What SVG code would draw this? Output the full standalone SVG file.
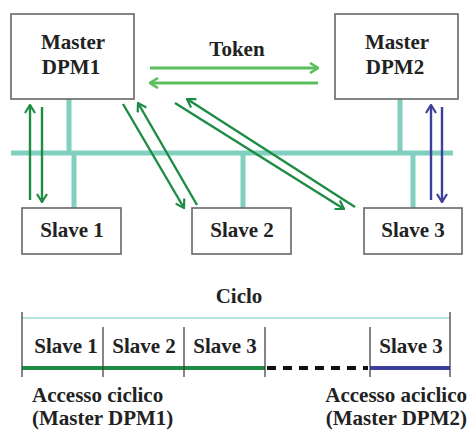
<svg xmlns="http://www.w3.org/2000/svg" width="469" height="430" viewBox="0 0 469 430">
  <style>
    .box { fill: #ffffff; stroke: #666666; stroke-width: 1.6; }
    .lbl { font-family: 'Liberation Serif', 'Times New Roman', serif; font-weight: bold; font-size: 21px; fill: #222222; }
    .mid { text-anchor: middle; }
    .end { text-anchor: end; }
    .bus { stroke: #80cfbf; stroke-width: 5; fill: none; }
    .tok { stroke: #5cbf5c; stroke-width: 3; fill: none; }
    .cyc { stroke: #1e8c45; stroke-width: 2.4; fill: none; }
    .acy { stroke: #3d3f9c; stroke-width: 2.4; fill: none; }
    .tick { stroke: #444444; stroke-width: 1.3; }
  </style>
  <defs>
    <marker id="headTok" viewBox="0 0 10 12" refX="9" refY="6" markerWidth="10" markerHeight="12" markerUnits="userSpaceOnUse" orient="auto">
      <path d="M1,1 L9,6 L1,11" fill="none" stroke="#5cbf5c" stroke-width="2.6"/>
    </marker>
    <marker id="headCyc" viewBox="0 0 10 12" refX="9" refY="6" markerWidth="10" markerHeight="12" markerUnits="userSpaceOnUse" orient="auto">
      <path d="M1,1 L9,6 L1,11" fill="none" stroke="#1e8c45" stroke-width="2.2"/>
    </marker>
    <marker id="headAcy" viewBox="0 0 10 12" refX="9" refY="6" markerWidth="10" markerHeight="12" markerUnits="userSpaceOnUse" orient="auto">
      <path d="M1,1 L9,6 L1,11" fill="none" stroke="#3d3f9c" stroke-width="2.2"/>
    </marker>
  </defs>

  <!-- bus and stubs -->
  <g id="bus">
    <line class="bus" x1="11" y1="153" x2="453" y2="153"/>
    <line class="bus" x1="69" y1="99" x2="69" y2="153"/>
    <line class="bus" x1="74" y1="153" x2="74" y2="208"/>
    <line class="bus" x1="243" y1="153" x2="243" y2="208"/>
    <line class="bus" x1="400" y1="99" x2="400" y2="153"/>
    <line class="bus" x1="413" y1="153" x2="413" y2="208"/>
  </g>

  <!-- nodes -->
  <g id="master1">
    <rect class="box" x="11" y="14" width="123" height="85"/>
    <text class="lbl mid" x="73" y="49">Master</text>
    <text class="lbl mid" x="71" y="74">DPM1</text>
  </g>
  <g id="master2">
    <rect class="box" x="335" y="14" width="123" height="85"/>
    <text class="lbl mid" x="397" y="49">Master</text>
    <text class="lbl mid" x="395" y="74">DPM2</text>
  </g>
  <g id="slave1">
    <rect class="box" x="22" y="208" width="99" height="46"/>
    <text class="lbl mid" x="72" y="237">Slave 1</text>
  </g>
  <g id="slave2">
    <rect class="box" x="192" y="208" width="99" height="46"/>
    <text class="lbl mid" x="242" y="237">Slave 2</text>
  </g>
  <g id="slave3">
    <rect class="box" x="364" y="208" width="98" height="46"/>
    <text class="lbl mid" x="413" y="237">Slave 3</text>
  </g>

  <!-- connectors -->
  <g id="connectors">
    <text class="lbl mid" x="237" y="56">Token</text>
    <line class="tok" x1="150" y1="68" x2="318" y2="68" marker-end="url(#headTok)"/>
    <line class="tok" x1="318" y1="83" x2="150" y2="83" marker-end="url(#headTok)"/>

    <line class="cyc" x1="30" y1="200" x2="30" y2="105" marker-end="url(#headCyc)"/>
    <line class="cyc" x1="42" y1="107" x2="42" y2="202" marker-end="url(#headCyc)"/>

    <line class="cyc" x1="123" y1="104" x2="184" y2="208" marker-end="url(#headCyc)"/>
    <line class="cyc" x1="197" y1="205" x2="138" y2="103" marker-end="url(#headCyc)"/>

    <line class="cyc" x1="175" y1="103" x2="344" y2="209" marker-end="url(#headCyc)"/>
    <line class="cyc" x1="355" y1="207" x2="187" y2="99" marker-end="url(#headCyc)"/>

    <line class="acy" x1="431" y1="200" x2="431" y2="105" marker-end="url(#headAcy)"/>
    <line class="acy" x1="442" y1="107" x2="442" y2="202" marker-end="url(#headAcy)"/>
  </g>

  <!-- cycle timeline -->
  <g id="timeline">
    <text class="lbl mid" x="239" y="303">Ciclo</text>
    <line x1="22" y1="318" x2="450" y2="318" stroke="#b3e3da" stroke-width="2"/>
    <line x1="22" y1="368" x2="265" y2="368" stroke="#1e8c45" stroke-width="4"/>
    <line x1="267" y1="368" x2="368" y2="368" stroke="#111111" stroke-width="4" stroke-dasharray="9,7"/>
    <line x1="370" y1="368" x2="450" y2="368" stroke="#3d3f9c" stroke-width="4"/>
    <line class="tick" x1="22" y1="312" x2="22" y2="377"/>
    <line class="tick" x1="450" y1="312" x2="450" y2="377"/>
    <line class="tick" x1="103" y1="327" x2="103" y2="377"/>
    <line class="tick" x1="184" y1="327" x2="184" y2="377"/>
    <line class="tick" x1="265" y1="327" x2="265" y2="377"/>
    <line class="tick" x1="370" y1="327" x2="370" y2="377"/>
    <text class="lbl mid" x="66" y="353">Slave 1</text>
    <text class="lbl mid" x="144" y="353">Slave 2</text>
    <text class="lbl mid" x="225" y="353">Slave 3</text>
    <text class="lbl mid" x="411" y="353">Slave 3</text>
    <text class="lbl" x="32" y="402">Accesso ciclico</text>
    <text class="lbl" x="32" y="425">(Master DPM1)</text>
    <text class="lbl end" x="467" y="402">Accesso aciclico</text>
    <text class="lbl end" x="467" y="425">(Master DPM2)</text>
  </g>
</svg>
